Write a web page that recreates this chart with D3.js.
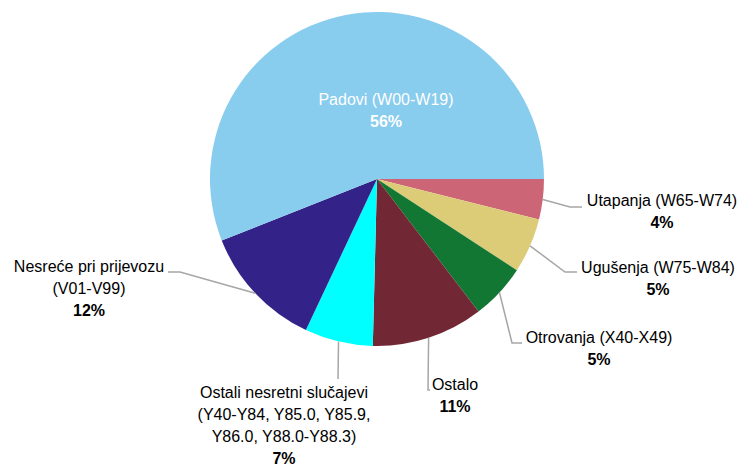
<!DOCTYPE html>
<html>
<head>
<meta charset="utf-8">
<script src="https://cdn.jsdelivr.net/npm/d3@7"></script>
<style>
  body { margin: 0; background: #fff; }
  svg { display: block; font-family: "Liberation Sans", Arial, sans-serif; }
</style>
</head>
<body>
<svg id="chart"></svg>
<script>
var width = 742, height = 469;

// data (clockwise from 3 o'clock)
var categories = ["Utapanja (W65-W74)", "Ugušenja (W75-W84)", "Otrovanja (X40-X49)", "Ostalo",
                  "Ostali nesretni slučajevi|(Y40-Y84, Y85.0, Y85.9,|Y86.0, Y88.0-Y88.3)",
                  "Nesreće pri prijevozu|(V01-V99)", "Padovi (W00-W19)"];
var values = [3.9, 5.3, 5.4, 10.8, 6.6, 12.0, 56.0];
var colors = ["#cc6677", "#ddcc77", "#117733", "#722834", "#00ffff", "#332288", "#88ccee"];

// label layout: text centre x, first line y, and the elbow of the leader line
var layout = [
  {x: 662, y: 206, elbow: [[570, 207], [582, 207]]},
  {x: 658, y: 273, elbow: [[565, 272], [577, 272]]},
  {x: 599, y: 343, elbow: [[512, 343], [522, 343]]},
  {x: 455, y: 390, elbow: [[428, 390], [430, 390]]},
  {x: 284, y: 398, elbow: [[338, 379]]},
  {x: 89,  y: 272, elbow: [[180, 272], [168, 272]]},
  {x: 386, y: 105, inside: true}
];

var cx = 377, cy = 179, radius = 167, lineH = 22;

var svg = d3.select("#chart")
    .attr("width", width)
    .attr("height", height);

var g = svg.append("g").attr("transform", "translate(" + cx + "," + cy + ")");

var pie = d3.pie()
    .sort(null)
    .value(function(d) { return d; })
    .startAngle(Math.PI / 2)
    .endAngle(Math.PI / 2 + 2 * Math.PI);

var arcs = pie(values);
var total = d3.sum(values);

var arc = d3.arc().innerRadius(0).outerRadius(radius);

g.selectAll("path.slice")
  .data(arcs)
  .enter().append("path")
  .attr("class", "slice")
  .attr("d", arc)
  .attr("fill", function(d, i) { return colors[i]; });

// leader lines
arcs.forEach(function(d, i) {
  var l = layout[i];
  if (l.inside) return;
  var mid = (d.startAngle + d.endAngle) / 2;
  var pts = [[cx + radius * Math.sin(mid), cy - radius * Math.cos(mid)]].concat(l.elbow);
  svg.append("path")
    .attr("d", d3.line()(pts))
    .attr("fill", "none")
    .attr("stroke", "#a6a6a6")
    .attr("stroke-width", 1.5);
});

// labels
arcs.forEach(function(d, i) {
  var l = layout[i];
  var lines = categories[i].split("|");
  var fill = l.inside ? "#fff" : "#000";
  var t = svg.append("text")
    .attr("text-anchor", "middle")
    .attr("font-size", "16px")
    .attr("fill", fill);
  lines.forEach(function(s, k) {
    t.append("tspan").attr("x", l.x).attr("y", l.y + k * lineH).text(s);
  });
  t.append("tspan")
    .attr("x", l.x)
    .attr("y", l.y + lines.length * lineH)
    .attr("font-weight", "bold")
    .text(Math.round(values[i] / total * 100) + "%");
});
</script>
</body>
</html>
